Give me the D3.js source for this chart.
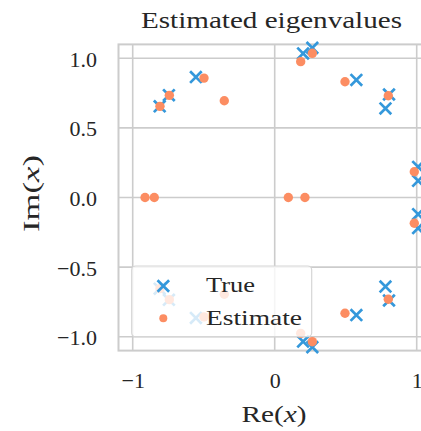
<!DOCTYPE html>
<html>
<head>
<meta charset="utf-8">
<script src="https://cdn.jsdelivr.net/npm/d3@7"></script>
<style>
  html, body { margin: 0; padding: 0; background: #ffffff; overflow: hidden; }
  svg { display: block; }
  text { font-family: "Liberation Serif", "Times New Roman", Times, "Nimbus Roman", serif; fill: #262626; }
</style>
</head>
<body>
<div id="chart"></div>
<script>
// Eigenvalues of the true system (blue crosses)
const trueRe = [-0.81, -0.745, -0.555, 0.20, 0.265, 0.575, 0.805, 0.78, 1.01, 1.01,
                -0.81, -0.745, -0.555, 0.20, 0.265, 0.575, 0.805, 0.78, 1.01, 1.01];
const trueIm = [0.655, 0.735, 0.865, 1.035, 1.075, 0.845, 0.74, 0.64, 0.22, 0.12,
                -0.655, -0.735, -0.865, -1.035, -1.075, -0.845, -0.74, -0.64, -0.22, -0.12];

// Eigenvalues of the estimated system (orange dots)
const estRe = [-0.808, -0.742, -0.498, -0.355, 0.183, 0.265, 0.495, 0.80, 0.983,
               -0.808, -0.742, -0.498, -0.355, 0.183, 0.265, 0.495, 0.80, 0.983,
               -0.913, -0.848, 0.096, 0.213];
const estIm = [0.655, 0.734, 0.858, 0.695, 0.976, 1.036, 0.832, 0.731, 0.185,
               -0.655, -0.734, -0.858, -0.695, -0.976, -1.036, -0.832, -0.731, -0.185,
               0, 0, 0, 0];

const xTicks = [-1, 0, 1];
const yTicks = [-1.0, -0.5, 0.0, 0.5, 1.0];
const seriesNames = ["True", "Estimate"];

const W = 421, H = 431;
const blue = "#3498db", orange = "#fc8d62", gridColor = "#cccccc";
const serif = "'Liberation Serif', 'Times New Roman', Times, serif";

const svg = d3.select("#chart").append("svg")
  .attr("width", W).attr("height", H);

const x = d3.scaleLinear().domain([-1.1, 1.1]).range([118.5, 430.9]);
const y = d3.scaleLinear().domain([-1.1, 1.1]).range([350.6, 44.4]);

const minus = s => s.replace("-", "\u2212");

// grid
const grid = svg.append("g");
grid.selectAll("line.gx").data(xTicks).join("line")
  .attr("x1", d => x(d)).attr("x2", d => x(d))
  .attr("y1", y.range()[0]).attr("y2", y.range()[1])
  .attr("stroke", gridColor).attr("stroke-width", 1.6);
grid.selectAll("line.gy").data(yTicks).join("line")
  .attr("y1", d => y(d)).attr("y2", d => y(d))
  .attr("x1", x.range()[0]).attr("x2", x.range()[1])
  .attr("stroke", gridColor).attr("stroke-width", 1.6);

// axes (labels only, no tick marks)
const xAxis = svg.append("g")
  .attr("transform", `translate(0,${y.range()[0]})`)
  .call(d3.axisBottom(x).tickValues(xTicks).tickSize(0).tickPadding(0)
    .tickFormat(d => minus(d3.format("d")(d))));
xAxis.attr("font-family", null).attr("font-size", null);
xAxis.select(".domain").remove();
xAxis.selectAll("text")
  .attr("y", 37.4).attr("dy", null)
  .style("font-size", "22px")
  .style("font-family", serif)
  .attr("fill", "#262626");

const yAxis = svg.append("g")
  .attr("transform", `translate(${x.range()[0]},0)`)
  .call(d3.axisLeft(y).tickValues(yTicks).tickSize(0).tickPadding(0)
    .tickFormat(d => minus(d3.format(".1f")(d))));
yAxis.attr("font-family", null).attr("font-size", null);
yAxis.select(".domain").remove();
yAxis.selectAll("text")
  .attr("x", -21.5).attr("dy", null).attr("y", 8)
  .style("font-size", "22px")
  .style("font-family", serif)
  .attr("fill", "#262626");

// plot frame
svg.append("rect")
  .attr("x", x.range()[0]).attr("y", y.range()[1])
  .attr("width", x.range()[1] - x.range()[0])
  .attr("height", y.range()[0] - y.range()[1])
  .attr("fill", "none").attr("stroke", gridColor).attr("stroke-width", 2);

// markers
const crossPath = s => `M${-s},${-s}L${s},${s}M${-s},${s}L${s},${-s}`;
const trueData = trueRe.map((r, i) => ({ re: r, im: trueIm[i] }));
const estData = estRe.map((r, i) => ({ re: r, im: estIm[i] }));

const plot = svg.append("g");
plot.selectAll("path.true").data(trueData).join("path")
  .attr("class", "true")
  .attr("transform", d => `translate(${x(d.re)},${y(d.im)})`)
  .attr("d", crossPath(5.8))
  .attr("stroke", blue).attr("stroke-width", 2.7).attr("fill", "none");

plot.selectAll("circle.est").data(estData).join("circle")
  .attr("class", "est")
  .attr("cx", d => x(d.re)).attr("cy", d => y(d.im))
  .attr("r", 4.7).attr("fill", orange);

// legend
const lg = svg.append("g");
lg.append("rect")
  .attr("x", 131.7).attr("y", 266).attr("width", 180).attr("height", 70.7)
  .attr("rx", 4).attr("fill", "#ffffff").attr("fill-opacity", 0.8)
  .attr("stroke", "#d6d6d6").attr("stroke-width", 1.2);
lg.append("path")
  .attr("transform", "translate(163.3,286)")
  .attr("d", crossPath(5.8))
  .attr("stroke", blue).attr("stroke-width", 2.7).attr("fill", "none");
lg.append("circle").attr("cx", 163.3).attr("cy", 318.3).attr("r", 4)
  .attr("fill", orange);
lg.append("text").attr("x", 206).attr("y", 291.7)
  .attr("textLength", 49).attr("lengthAdjust", "spacingAndGlyphs")
  .style("font-size", "22px").text(seriesNames[0]);
lg.append("text").attr("x", 206).attr("y", 325)
  .attr("textLength", 96).attr("lengthAdjust", "spacingAndGlyphs")
  .style("font-size", "22px").text(seriesNames[1]);

// title
svg.append("text")
  .attr("x", 141).attr("y", 28.3)
  .attr("textLength", 261).attr("lengthAdjust", "spacingAndGlyphs")
  .style("font-size", "23.5px")
  .text("Estimated eigenvalues");

// axis labels with italic variable
const xl = svg.append("text")
  .attr("x", 241.5).attr("y", 421.5)
  .attr("textLength", 65).attr("lengthAdjust", "spacingAndGlyphs")
  .style("font-size", "24px");
xl.append("tspan").text("Re(");
xl.append("tspan").style("font-style", "italic").text("x");
xl.append("tspan").text(")");

const yl = svg.append("text")
  .attr("transform", "translate(38.8,232) rotate(-90)")
  .attr("x", 0).attr("y", 0)
  .attr("textLength", 77).attr("lengthAdjust", "spacingAndGlyphs")
  .style("font-size", "24px");
yl.append("tspan").text("Im(");
yl.append("tspan").style("font-style", "italic").text("x");
yl.append("tspan").text(")");
</script>
</body>
</html>
